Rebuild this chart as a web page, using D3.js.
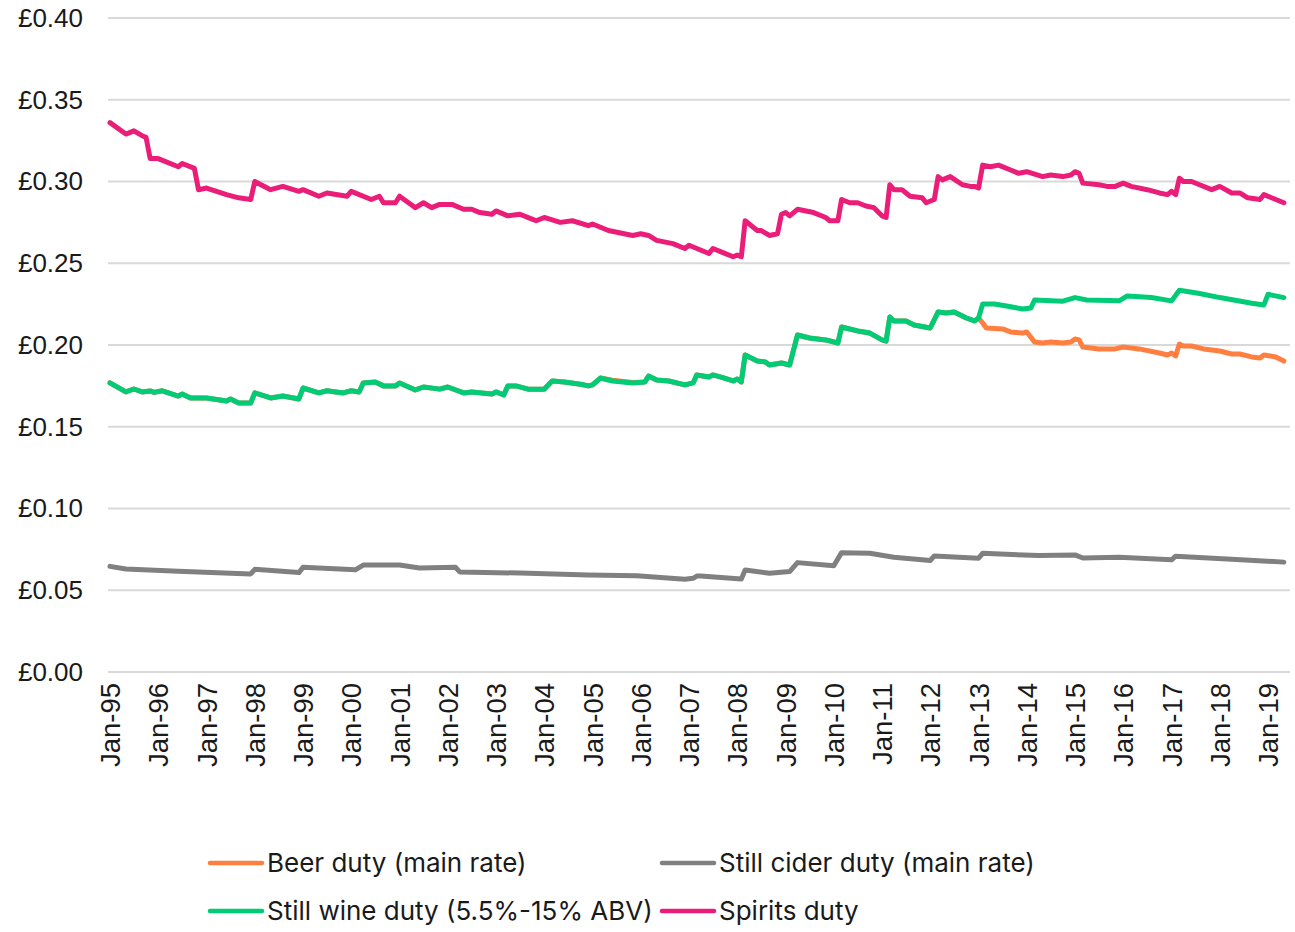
<!DOCTYPE html>
<html>
<head>
  <meta charset="UTF-8">
  <title>Alcohol duty in real terms</title>
  <script src="https://d3js.org/d3.v7.min.js"></script>
  <style>
    body {
      margin: 0;
      background: #fff;
      font-family: Inter, "Noto Sans", Arial, sans-serif;
    }
    .grid line {
      stroke: #d9d9d9;
      stroke-width: 2;
    }
    .axis text {
      fill: #1a1a1a;
    }
    .y-axis text {
      font-size: 26px;
    }
    .x-axis text {
      font-size: 27.5px;
    }
    .series {
      fill: none;
      stroke-width: 5;
      stroke-linejoin: round;
      stroke-linecap: round;
    }
    .legend text {
      fill: #1a1a1a;
      font-size: 26px;
    }
  </style>
</head>
<body>
  <div id="chart"></div>
  <script>
    // values, [month, £ per unit]
    const beer = [
      ["1995-01", 0.1768], ["1995-05", 0.1713], ["1995-07", 0.1731], ["1995-09", 0.1713],
      ["1995-11", 0.1719], ["1995-12", 0.1710], ["1996-02", 0.1720], ["1996-06", 0.1688],
      ["1996-07", 0.1700], ["1996-09", 0.1676], ["1997-01", 0.1676], ["1997-06", 0.1657],
      ["1997-07", 0.1670], ["1997-09", 0.1645], ["1997-12", 0.1645], ["1998-01", 0.1707],
      ["1998-05", 0.1676], ["1998-08", 0.1688], ["1998-12", 0.1670], ["1999-01", 0.1737],
      ["1999-05", 0.1707], ["1999-07", 0.1720], ["1999-11", 0.1707], ["2000-01", 0.1720],
      ["2000-03", 0.1713], ["2000-04", 0.1768], ["2000-07", 0.1774], ["2000-09", 0.1750],
      ["2000-12", 0.1750], ["2001-01", 0.1768], ["2001-05", 0.1725], ["2001-07", 0.1743],
      ["2001-11", 0.1730], ["2002-01", 0.1743], ["2002-05", 0.1707], ["2002-07", 0.1713],
      ["2002-12", 0.1700], ["2003-01", 0.1713], ["2003-03", 0.1694], ["2003-04", 0.1750],
      ["2003-06", 0.1750], ["2003-09", 0.1730], ["2004-01", 0.1730], ["2004-03", 0.1780],
      ["2004-06", 0.1774], ["2004-10", 0.1760], ["2004-12", 0.1750], ["2005-01", 0.1756],
      ["2005-03", 0.1798], ["2005-06", 0.1785], ["2005-11", 0.1770], ["2006-02", 0.1774],
      ["2006-03", 0.1810], ["2006-05", 0.1786], ["2006-08", 0.1780], ["2006-12", 0.1756],
      ["2007-02", 0.1768], ["2007-03", 0.1817], ["2007-06", 0.1804], ["2007-07", 0.1817],
      ["2007-09", 0.1804], ["2007-12", 0.1780], ["2008-01", 0.1792], ["2008-02", 0.1774],
      ["2008-03", 0.1939], ["2008-06", 0.1902], ["2008-08", 0.1896], ["2008-09", 0.1878],
      ["2008-12", 0.1890], ["2009-02", 0.1878], ["2009-04", 0.2061], ["2009-07", 0.2043],
      ["2009-11", 0.2031], ["2010-02", 0.2012], ["2010-03", 0.2110], ["2010-05", 0.2098],
      ["2010-07", 0.2086], ["2010-10", 0.2073], ["2011-01", 0.2031], ["2011-02", 0.2024],
      ["2011-03", 0.2171], ["2011-04", 0.2147], ["2011-07", 0.2147], ["2011-09", 0.2122],
      ["2012-01", 0.2104], ["2012-03", 0.2202], ["2012-05", 0.2196], ["2012-07", 0.2202],
      ["2012-10", 0.2165], ["2012-12", 0.2147], ["2013-01", 0.2165], ["2013-02", 0.2135],
      ["2013-03", 0.2104], ["2013-07", 0.2098], ["2013-09", 0.2080], ["2013-12", 0.2073],
      ["2014-01", 0.2080], ["2014-03", 0.2018], ["2014-05", 0.2012], ["2014-07", 0.2018],
      ["2014-10", 0.2012], ["2014-12", 0.2018], ["2015-01", 0.2037], ["2015-02", 0.2031],
      ["2015-03", 0.1988], ["2015-07", 0.1976], ["2015-11", 0.1976], ["2016-01", 0.1988],
      ["2016-05", 0.1976], ["2016-10", 0.1951], ["2016-12", 0.1939], ["2017-01", 0.1951],
      ["2017-02", 0.1933], ["2017-03", 0.2006], ["2017-04", 0.1994], ["2017-06", 0.1994],
      ["2017-09", 0.1976], ["2018-01", 0.1963], ["2018-04", 0.1945], ["2018-06", 0.1945],
      ["2018-09", 0.1927], ["2018-11", 0.1920], ["2018-12", 0.1939], ["2019-03", 0.1927],
      ["2019-05", 0.1902]
    ];

    const cider = [
      ["1995-01", 0.0646], ["1995-05", 0.0630], ["1996-06", 0.0616], ["1997-12", 0.0600],
      ["1998-01", 0.0628], ["1998-12", 0.0608], ["1999-01", 0.0640], ["2000-02", 0.0625],
      ["2000-04", 0.0654], ["2001-01", 0.0654], ["2001-06", 0.0636], ["2002-03", 0.0640],
      ["2002-04", 0.0612], ["2003-07", 0.0605], ["2004-12", 0.0594], ["2005-12", 0.0588],
      ["2006-12", 0.0567], ["2007-02", 0.0573], ["2007-03", 0.0587], ["2007-04", 0.0587],
      ["2008-02", 0.0569], ["2008-03", 0.0624], ["2008-09", 0.0604], ["2009-02", 0.0614],
      ["2009-04", 0.0669], ["2010-01", 0.0650], ["2010-03", 0.0730], ["2010-10", 0.0726],
      ["2011-04", 0.0702], ["2012-01", 0.0682], ["2012-02", 0.0710], ["2013-01", 0.0696],
      ["2013-02", 0.0726], ["2014-04", 0.0712], ["2015-01", 0.0716], ["2015-03", 0.0697],
      ["2015-12", 0.0702], ["2017-01", 0.0686], ["2017-02", 0.0708], ["2018-04", 0.0690],
      ["2019-05", 0.0672]
    ];

    const wine = [
      ["1995-01", 0.1768], ["1995-05", 0.1713], ["1995-07", 0.1731], ["1995-09", 0.1713],
      ["1995-11", 0.1719], ["1995-12", 0.1710], ["1996-02", 0.1720], ["1996-06", 0.1688],
      ["1996-07", 0.1700], ["1996-09", 0.1676], ["1997-01", 0.1676], ["1997-06", 0.1657],
      ["1997-07", 0.1670], ["1997-09", 0.1645], ["1997-12", 0.1645], ["1998-01", 0.1707],
      ["1998-05", 0.1676], ["1998-08", 0.1688], ["1998-12", 0.1670], ["1999-01", 0.1737],
      ["1999-05", 0.1707], ["1999-07", 0.1720], ["1999-11", 0.1707], ["2000-01", 0.1720],
      ["2000-03", 0.1713], ["2000-04", 0.1768], ["2000-07", 0.1774], ["2000-09", 0.1750],
      ["2000-12", 0.1750], ["2001-01", 0.1768], ["2001-05", 0.1725], ["2001-07", 0.1743],
      ["2001-11", 0.1730], ["2002-01", 0.1743], ["2002-05", 0.1707], ["2002-07", 0.1713],
      ["2002-12", 0.1700], ["2003-01", 0.1713], ["2003-03", 0.1694], ["2003-04", 0.1750],
      ["2003-06", 0.1750], ["2003-09", 0.1730], ["2004-01", 0.1730], ["2004-03", 0.1780],
      ["2004-06", 0.1774], ["2004-10", 0.1760], ["2004-12", 0.1750], ["2005-01", 0.1756],
      ["2005-03", 0.1798], ["2005-06", 0.1780], ["2005-11", 0.1768], ["2006-02", 0.1774],
      ["2006-03", 0.1810], ["2006-05", 0.1786], ["2006-08", 0.1780], ["2006-12", 0.1756],
      ["2007-02", 0.1768], ["2007-03", 0.1817], ["2007-06", 0.1804], ["2007-07", 0.1817],
      ["2007-09", 0.1804], ["2007-12", 0.1780], ["2008-01", 0.1792], ["2008-02", 0.1774],
      ["2008-03", 0.1939], ["2008-06", 0.1902], ["2008-08", 0.1896], ["2008-09", 0.1878],
      ["2008-12", 0.1890], ["2009-02", 0.1878], ["2009-04", 0.2061], ["2009-07", 0.2043],
      ["2009-11", 0.2031], ["2010-02", 0.2012], ["2010-03", 0.2110], ["2010-05", 0.2098],
      ["2010-07", 0.2086], ["2010-10", 0.2073], ["2011-01", 0.2031], ["2011-02", 0.2024],
      ["2011-03", 0.2171], ["2011-04", 0.2147], ["2011-07", 0.2147], ["2011-09", 0.2122],
      ["2012-01", 0.2104], ["2012-03", 0.2202], ["2012-05", 0.2196], ["2012-07", 0.2202],
      ["2012-10", 0.2165], ["2012-12", 0.2147], ["2013-01", 0.2165], ["2013-02", 0.2251],
      ["2013-05", 0.2251], ["2013-08", 0.2239], ["2013-12", 0.2220], ["2014-02", 0.2226],
      ["2014-03", 0.2275], ["2014-10", 0.2268], ["2015-01", 0.2290], ["2015-04", 0.2275],
      ["2015-12", 0.2270], ["2016-02", 0.2300], ["2016-08", 0.2290], ["2017-01", 0.2270],
      ["2017-03", 0.2335], ["2017-08", 0.2315], ["2018-01", 0.2290], ["2018-09", 0.2255],
      ["2018-12", 0.2245], ["2019-01", 0.2310], ["2019-05", 0.2290]
    ];

    const spirits = [
      ["1995-01", 0.336], ["1995-05", 0.329], ["1995-07", 0.331], ["1995-09", 0.328],
      ["1995-10", 0.327], ["1995-11", 0.314], ["1996-01", 0.314], ["1996-06", 0.309],
      ["1996-07", 0.311], ["1996-10", 0.308], ["1996-11", 0.295], ["1997-01", 0.296],
      ["1997-06", 0.292], ["1997-09", 0.290], ["1997-12", 0.289], ["1998-01", 0.300],
      ["1998-05", 0.295], ["1998-08", 0.297], ["1998-12", 0.294], ["1999-01", 0.295],
      ["1999-05", 0.291], ["1999-07", 0.293], ["1999-12", 0.291], ["2000-01", 0.294],
      ["2000-06", 0.289], ["2000-08", 0.291], ["2000-09", 0.287], ["2000-12", 0.287],
      ["2001-01", 0.291], ["2001-05", 0.284], ["2001-07", 0.287], ["2001-09", 0.284],
      ["2001-11", 0.286], ["2002-02", 0.286], ["2002-05", 0.283], ["2002-07", 0.283],
      ["2002-09", 0.281], ["2002-12", 0.280], ["2003-01", 0.282], ["2003-04", 0.279],
      ["2003-07", 0.280], ["2003-10", 0.277], ["2003-11", 0.276], ["2004-01", 0.278],
      ["2004-05", 0.275], ["2004-08", 0.276], ["2004-12", 0.273], ["2005-01", 0.274],
      ["2005-05", 0.270], ["2005-11", 0.267], ["2006-01", 0.268], ["2006-03", 0.267],
      ["2006-05", 0.264], ["2006-09", 0.262], ["2006-12", 0.259], ["2007-01", 0.261],
      ["2007-06", 0.256], ["2007-07", 0.259], ["2007-09", 0.257], ["2007-12", 0.254],
      ["2008-01", 0.255], ["2008-02", 0.254], ["2008-03", 0.276], ["2008-06", 0.270],
      ["2008-07", 0.270], ["2008-09", 0.267], ["2008-11", 0.268], ["2008-12", 0.280],
      ["2009-01", 0.281], ["2009-02", 0.279], ["2009-04", 0.283], ["2009-08", 0.281],
      ["2009-11", 0.278], ["2009-12", 0.276], ["2010-02", 0.276], ["2010-03", 0.289],
      ["2010-05", 0.287], ["2010-07", 0.287], ["2010-09", 0.285], ["2010-11", 0.284],
      ["2011-01", 0.279], ["2011-02", 0.278], ["2011-03", 0.298], ["2011-04", 0.295],
      ["2011-06", 0.295], ["2011-08", 0.291], ["2011-11", 0.290], ["2011-12", 0.287],
      ["2012-02", 0.289], ["2012-03", 0.303], ["2012-04", 0.301], ["2012-06", 0.303],
      ["2012-09", 0.298], ["2012-11", 0.297], ["2012-12", 0.297], ["2013-01", 0.296],
      ["2013-02", 0.310], ["2013-04", 0.309], ["2013-06", 0.310], ["2013-09", 0.307],
      ["2013-11", 0.305], ["2014-01", 0.306], ["2014-05", 0.303], ["2014-07", 0.304],
      ["2014-10", 0.303], ["2014-12", 0.304], ["2015-01", 0.306], ["2015-02", 0.305],
      ["2015-03", 0.299], ["2015-07", 0.298], ["2015-09", 0.297], ["2015-11", 0.297],
      ["2016-01", 0.299], ["2016-03", 0.297], ["2016-07", 0.295], ["2016-10", 0.293],
      ["2016-12", 0.292], ["2017-01", 0.294], ["2017-02", 0.292], ["2017-03", 0.302],
      ["2017-04", 0.300], ["2017-06", 0.300], ["2017-08", 0.298], ["2017-11", 0.295],
      ["2018-01", 0.297], ["2018-04", 0.293], ["2018-06", 0.293], ["2018-08", 0.290],
      ["2018-11", 0.289], ["2018-12", 0.292], ["2019-03", 0.289], ["2019-05", 0.287]
    ];

    const seriesNames = ["Beer duty (main rate)", "Still cider duty (main rate)",
                         "Still wine duty (5.5%-15% ABV)", "Spirits duty"];
    const seriesColors = ["#ff7f41", "#808080", "#00cc78", "#ea1e78"];
    const yTicks = [0, 0.05, 0.10, 0.15, 0.20, 0.25, 0.30, 0.35, 0.40];
    const xTickYears = d3.range(1995, 2020);

    const width = 1295, height = 932;
    const margin = { top: 18, right: 5, bottom: 260, left: 108 };

    const parse = d3.timeParse("%Y-%m");
    const series = [beer, cider, wine, spirits].map(s => s.map(([d, v]) => ({ date: parse(d), value: v })));

    const x = d3.scaleTime()
      .domain([new Date(1995, 0, 1), new Date(2019, 0, 1)])
      .range([110, 1268]);

    const y = d3.scaleLinear()
      .domain([0, 0.40])
      .range([height - margin.bottom, margin.top]);

    const svg = d3.select("#chart")
      .append("svg")
      .attr("width", width)
      .attr("height", height);

    // horizontal gridlines
    svg.append("g")
      .attr("class", "grid")
      .selectAll("line")
      .data(yTicks)
      .enter()
      .append("line")
      .attr("x1", margin.left)
      .attr("x2", width - margin.right)
      .attr("y1", d => y(d))
      .attr("y2", d => y(d));

    // y axis labels
    const yAxis = d3.axisLeft(y)
      .tickValues(yTicks)
      .tickFormat(d => "£" + d3.format(".2f")(d))
      .tickSize(0)
      .tickPadding(25);

    svg.append("g")
      .attr("class", "axis y-axis")
      .attr("transform", `translate(${margin.left}, 0)`)
      .call(yAxis)
      .call(g => g.select(".domain").remove());

    // x axis labels, rotated
    const xAxis = d3.axisBottom(x)
      .tickValues(xTickYears.map(yr => new Date(yr, 0, 1)))
      .tickFormat(d3.timeFormat("Jan-%y"))
      .tickSize(0);

    svg.append("g")
      .attr("class", "axis x-axis")
      .attr("transform", `translate(0, ${y(0)})`)
      .call(xAxis)
      .call(g => g.select(".domain").remove())
      .selectAll("text")
      .style("text-anchor", "end")
      .attr("x", -11)
      .attr("y", 0)
      .attr("dy", "0.35em")
      .attr("transform", "rotate(-90)");

    const line = d3.line()
      .x(d => x(d.date))
      .y(d => y(d.value));

    svg.selectAll(".series")
      .data(series)
      .enter()
      .append("path")
      .attr("class", "series")
      .attr("stroke", (d, i) => seriesColors[i])
      .attr("d", line);

    // legend: two rows, two columns
    const legendPos = [[210, 863], [662, 863], [210, 911], [662, 911]];
    const legend = svg.append("g").attr("class", "legend");
    seriesNames.forEach((name, i) => {
      const [lx, ly] = legendPos[i];
      legend.append("line")
        .attr("x1", lx).attr("x2", lx + 52)
        .attr("y1", ly).attr("y2", ly)
        .attr("stroke", seriesColors[i])
        .attr("stroke-width", 4.5)
        .attr("stroke-linecap", "round");
      legend.append("text")
        .attr("x", lx + 57)
        .attr("y", ly)
        .attr("dy", "0.35em")
        .text(name);
    });
  </script>
</body>
</html>
